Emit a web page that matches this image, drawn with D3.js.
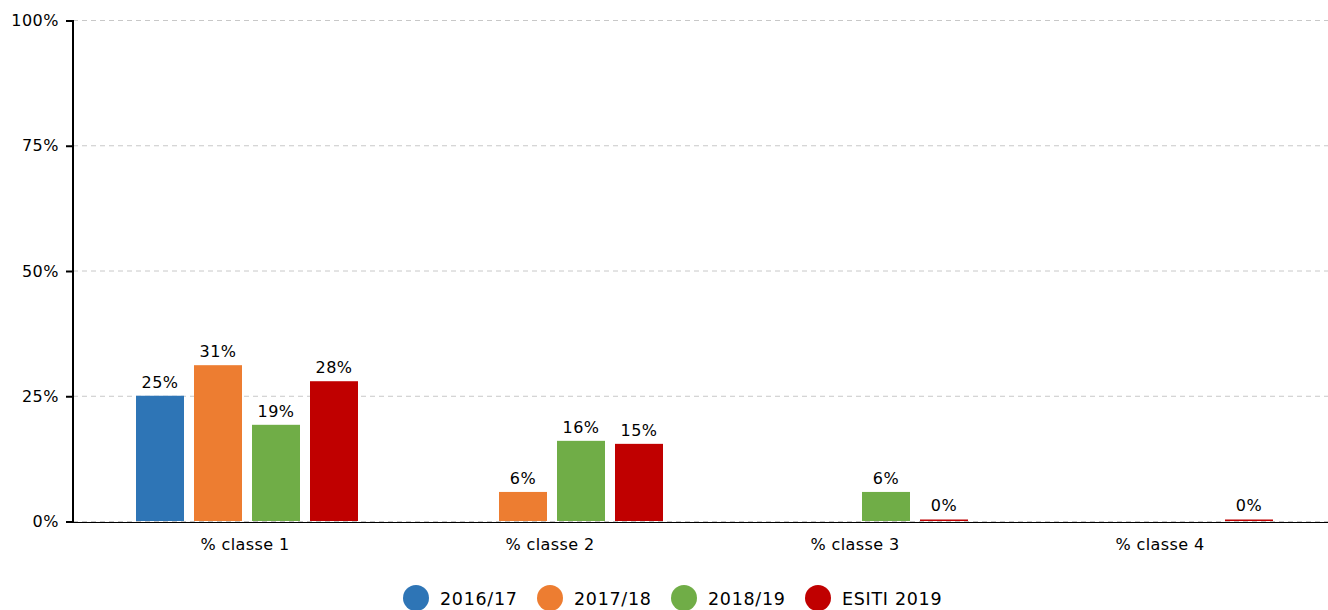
<!DOCTYPE html>
<html>
<head>
<meta charset="utf-8">
<script src="https://cdn.jsdelivr.net/npm/d3@7"></script>
<style>
  body { margin: 0; background: #fff; }
  text { font-family: 'DejaVu Sans', sans-serif; }
</style>
</head>
<body>
<div id="chart"></div>
<script>
// Data
const categories = ['% classe 1', '% classe 2', '% classe 3', '% classe 4']
const seriesNames = ['2016/17', '2017/18', '2018/19', 'ESITI 2019']
const seriesColors = ['#2e75b6', '#ed7d31', '#70ad47', '#c00000']
const values2016 = [25, null, null, null]
const values2017 = [31.1, 5.8, null, null]
const values2018 = [19.2, 16, 5.8, null]
const valuesEsiti = [27.9, 15.4, 0, 0]
const yTicks = [0, 25, 50, 75, 100]

const series = [values2016, values2017, values2018, valuesEsiti]

const width = 1328
const height = 610
const plot = { left: 73, right: 1328, top: 20, bottom: 521 }

const svg = d3.select('#chart')
  .append('svg')
  .attr('width', width)
  .attr('height', height)

// Scales
const xScale = d3.scaleBand()
  .domain(categories)
  .range([92.5, 1312.5])

const xInner = d3.scaleBand()
  .domain(seriesNames)
  .range([43.5, 43.5 + 58 * 4 - 10])
  .paddingInner(10 / 58)

const yScale = d3.scaleLinear()
  .domain([0, 100])
  .range([plot.bottom, plot.top])

// Grid
svg.append('g')
  .selectAll('line')
  .data(yTicks)
  .join('line')
  .attr('x1', plot.left)
  .attr('x2', plot.right)
  .attr('y1', d => yScale(d) + 0.5)
  .attr('y2', d => yScale(d) + 0.5)
  .attr('stroke', '#c8c8c8')
  .attr('stroke-dasharray', '5,4')

// X axis line (under the bars so 0% bars stay visible)
svg.append('line')
  .attr('x1', plot.left)
  .attr('x2', plot.right)
  .attr('y1', plot.bottom + 1.5)
  .attr('y2', plot.bottom + 1.5)
  .attr('stroke', '#000')
  .attr('stroke-width', 1)

// Y axis
const yAxis = d3.axisLeft(yScale)
  .tickValues(yTicks)
  .tickFormat(d => d + '%')
  .tickSize(7)
  .tickPadding(7)

const yAxisGroup = svg.append('g')
  .attr('transform', `translate(${plot.left},0.5)`)
  .call(yAxis)
yAxisGroup.select('.domain').remove()
yAxisGroup.selectAll('.tick line').attr('stroke', '#000').attr('stroke-width', 2)
yAxisGroup.selectAll('text')
  .attr('font-size', 16)
  .attr('letter-spacing', 0.5)
  .attr('font-family', 'DejaVu Sans')
  .attr('fill', '#000')

svg.append('line')
  .attr('x1', plot.left)
  .attr('x2', plot.left)
  .attr('y1', plot.top)
  .attr('y2', plot.bottom + 1)
  .attr('stroke', '#000')
  .attr('stroke-width', 2)

// Bars
const groups = svg.append('g')
  .selectAll('g')
  .data(categories)
  .join('g')
  .attr('transform', d => `translate(${xScale(d)},0)`)

series.forEach((vals, si) => {
  const pts = categories.map((c, i) => ({ cat: c, v: vals[i] })).filter(d => d.v !== null)
  groups.filter(c => pts.some(p => p.cat === c))
    .each(function(c) {
      const p = pts.find(p => p.cat === c)
      const g = d3.select(this)
      g.append('rect')
        .attr('x', xInner(seriesNames[si]))
        .attr('width', xInner.bandwidth())
        .attr('y', Math.min(yScale(p.v), yScale(0) - 1.5))
        .attr('height', Math.max(yScale(0) - yScale(p.v), 1.5))
        .attr('fill', seriesColors[si])
      g.append('text')
        .attr('x', xInner(seriesNames[si]) + xInner.bandwidth() / 2)
        .attr('y', yScale(p.v) - (p.v === 0 ? 10 : 8))
        .attr('text-anchor', 'middle')
        .attr('font-size', 16)
        .attr('letter-spacing', 0.5)
        .attr('fill', '#000')
        .text(Math.round(p.v) + '%')
    })
})

svg.append('g')
  .selectAll('text')
  .data(categories)
  .join('text')
  .attr('x', d => xScale(d) + xScale.bandwidth() / 2)
  .attr('y', 550)
  .attr('text-anchor', 'middle')
  .attr('font-size', 16)
  .attr('letter-spacing', 0.4)
  .attr('fill', '#000')
  .text(d => d)

// Legend
const legendX = [416, 550, 684, 818]
const legend = svg.append('g')
  .selectAll('g')
  .data(seriesNames)
  .join('g')
  .attr('transform', (d, i) => `translate(${legendX[i]},598)`)

legend.append('circle')
  .attr('r', 13)
  .attr('fill', (d, i) => seriesColors[i])

legend.append('text')
  .attr('x', 24)
  .attr('y', 6.5)
  .attr('font-size', 17.5)
  .attr('letter-spacing', 0.7)
  .attr('fill', '#000')
  .text(d => d)
</script>
</body>
</html>
